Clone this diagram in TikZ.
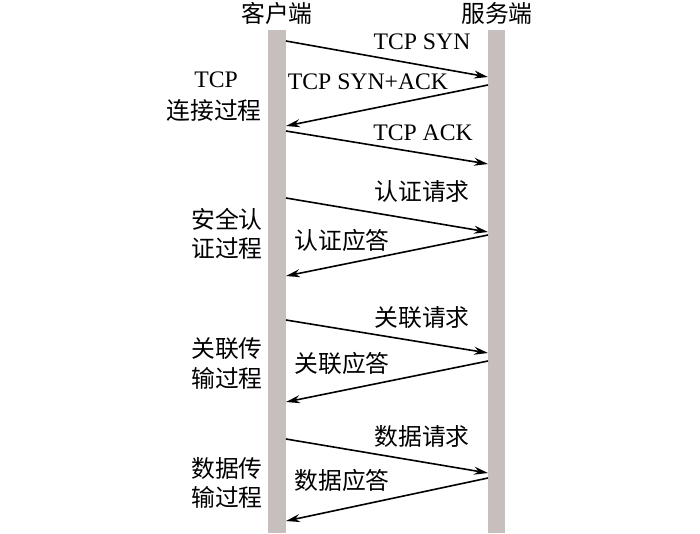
\documentclass[tikz,border=0pt]{standalone}
\usepackage{fontspec}
\setmainfont{Liberation Serif}
\newfontfamily\cjk{Noto Sans CJK SC}
\usetikzlibrary{arrows.meta}
\definecolor{bargray}{RGB}{198,191,189}
\tikzset{
  lifeline/.style={fill=bargray, draw=none},
  msg/.style={line width=1.6pt, -{Stealth[length=14pt,width=8pt]}},
  lbl/.style={inner sep=0pt, font=\fontsize{23.7}{28}\selectfont},
  clbl/.style={inner sep=0pt, font=\fontsize{23.8}{28}\selectfont\cjk},
}
\begin{document}
\begin{tikzpicture}[x=1pt,y=-1pt]
\useasboundingbox (0,0) rectangle (700,533);
% lifelines
\fill[lifeline] (268,30) rectangle (286,533);
\fill[lifeline] (488,30) rectangle (505,533);
% anchors
\coordinate (c1) at (286,41);  \coordinate (s1) at (488,77);
\coordinate (s2) at (488,85);  \coordinate (c2) at (286,126);
\coordinate (c3) at (286,131); \coordinate (s3) at (488,164);
\coordinate (c4) at (286,198); \coordinate (s4) at (488,232);
\coordinate (s5) at (488,235); \coordinate (c5) at (286,276);
\coordinate (c6) at (286,320); \coordinate (s6) at (488,353);
\coordinate (s7) at (488,361); \coordinate (c7) at (286,402);
\coordinate (c8) at (286,439); \coordinate (s8) at (488,473);
\coordinate (s9) at (488,478); \coordinate (c9) at (286,521);
% headers
\node[clbl] (client) at (277,13) {客户端};
\node[clbl] (server) at (497,13) {服务端};
% messages
\draw[msg] (c1) -- (s1);
\draw[msg] (s2) -- (c2);
\draw[msg] (c3) -- (s3);
\draw[msg] (c4) -- (s4);
\draw[msg] (s5) -- (c5);
\draw[msg] (c6) -- (s6);
\draw[msg] (s7) -- (c7);
\draw[msg] (c8) -- (s8);
\draw[msg] (s9) -- (c9);
% message labels
\node[lbl] (m1) at (422,42) {TCP SYN};
\node[lbl] (m2) at (368,82) {TCP SYN+ACK};
\node[lbl] (m3) at (423,133) {TCP ACK};
\node[clbl] (m4) at (422,191) {认证请求};
\node[clbl] (m5) at (342,240) {认证应答};
\node[clbl] (m6) at (422,318) {关联请求};
\node[clbl] (m7) at (342,363) {关联应答};
\node[clbl] (m8) at (422,436) {数据请求};
\node[clbl] (m9) at (342,480) {数据应答};
% phase labels
\node[lbl] (p1a) at (216,80) {TCP};
\node[clbl] (p1b) at (214,110) {连接过程};
\node[clbl] (p2a) at (227,219) {安全认};
\node[clbl] (p2b) at (227,248) {证过程};
\node[clbl] (p3a) at (227,349) {关联传};
\node[clbl] (p3b) at (227,378) {输过程};
\node[clbl] (p4a) at (227,468) {数据传};
\node[clbl] (p4b) at (227,497) {输过程};
\end{tikzpicture}
\end{document}
